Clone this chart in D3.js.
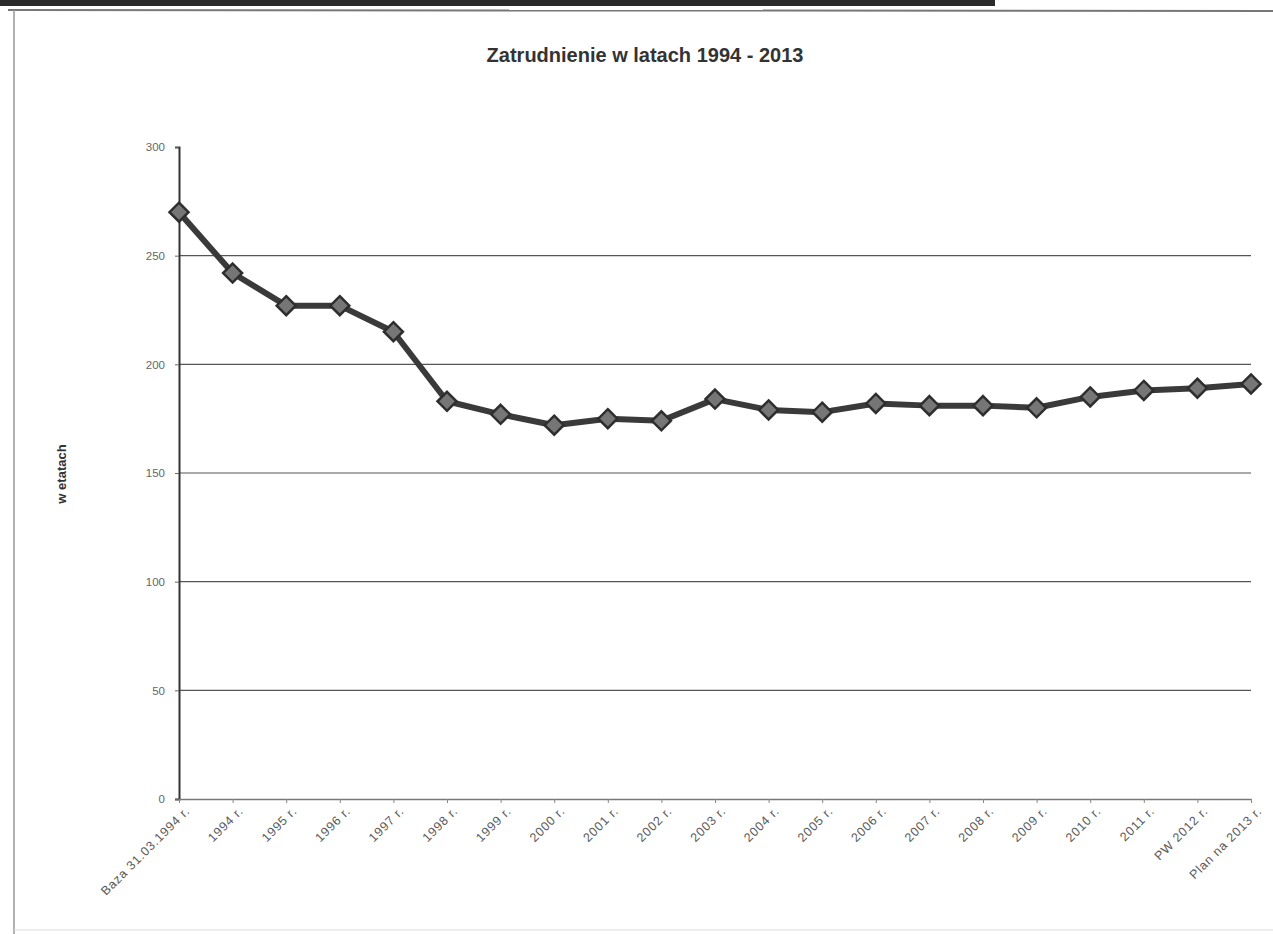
<!DOCTYPE html>
<html>
<head>
<meta charset="utf-8">
<script src="https://cdn.jsdelivr.net/npm/d3@7"></script>
<style>
  html, body { margin: 0; padding: 0; background: #fff; }
  svg { display: block; }
</style>
</head>
<body>
<svg id="chart" width="1273" height="934"></svg>
<script>
// Employment (full-time positions) 1994 - 2013
const categories = [
  "Baza 31.03.1994 r.", "1994 r.", "1995 r.", "1996 r.", "1997 r.", "1998 r.",
  "1999 r.", "2000 r.", "2001 r.", "2002 r.", "2003 r.", "2004 r.", "2005 r.",
  "2006 r.", "2007 r.", "2008 r.", "2009 r.", "2010 r.", "2011 r.",
  "PW 2012 r.", "Plan na 2013 r."
];
const etaty = [270, 242, 227, 227, 215, 183, 177, 172, 175, 174, 184, 179, 178, 182, 181, 181, 180, 185, 188, 189, 191];
const yTicks = [0, 50, 100, 150, 200, 250, 300];
const title = "Zatrudnienie w latach 1994 - 2013";
const yTitle = "w etatach";

const svg = d3.select("#chart");
const font = "Arial, 'Liberation Sans', sans-serif";

// page frame: dark strip at the top and the thin frame lines
svg.append("rect").attr("x", 0).attr("y", 0).attr("width", 995).attr("height", 6).attr("fill", "#2a2a2a");
svg.append("line").attr("x1", 8).attr("x2", 1273).attr("y1", 10).attr("y2", 11)
  .attr("stroke", "#777").attr("stroke-width", 2);
svg.append("line").attr("x1", 14).attr("x2", 14).attr("y1", 10).attr("y2", 934)
  .attr("stroke", "#999").attr("stroke-width", 1.5);
svg.append("line").attr("x1", 14).attr("x2", 1273).attr("y1", 930).attr("y2", 930)
  .attr("stroke", "#ddd").attr("stroke-width", 1);

const plotL = 179, plotR = 1251, plotT = 147, plotB = 799;

const x = d3.scalePoint().domain(categories).range([plotL, plotR]);
const y = d3.scaleLinear().domain([0, 300]).range([plotB, plotT]);

// horizontal gridlines
svg.append("g").selectAll("line")
  .data(yTicks.filter(t => t > 0 && t < 300))
  .join("line")
  .attr("x1", plotL).attr("x2", plotR)
  .attr("y1", d => y(d)).attr("y2", d => y(d))
  .attr("stroke", "#555").attr("stroke-width", 1.2);

// y axis
const yAxis = svg.append("g")
  .attr("transform", `translate(${plotL},0)`)
  .call(d3.axisLeft(y).tickValues(yTicks).tickSize(4).tickPadding(10));
yAxis.select(".domain").attr("stroke", "#333").attr("stroke-width", 2);
yAxis.selectAll(".tick line").attr("stroke", "#666");
yAxis.selectAll(".tick text").attr("font-family", font).attr("font-size", 11.5).attr("fill", "#666");

// x axis
const xAxis = svg.append("g")
  .attr("transform", `translate(0,${plotB})`)
  .call(d3.axisBottom(x).tickSize(4).tickPadding(9).tickSizeOuter(0));
xAxis.select(".domain").attr("stroke", "#777").attr("stroke-width", 1.5);
xAxis.selectAll(".tick line").attr("stroke", "#888");
xAxis.selectAll(".tick text")
  .attr("font-family", font).attr("font-size", 12.5).attr("fill", "#5a5a5a")
  .attr("letter-spacing", 0.8)
  .attr("text-anchor", "end")
  .attr("dx", "-0.1em").attr("dy", "0.3em")
  .attr("transform", "rotate(-45)");

// series line
const line = d3.line().x((d, i) => x(categories[i])).y(d => y(d));
svg.append("path")
  .datum(etaty)
  .attr("d", line)
  .attr("fill", "none")
  .attr("stroke", "#3a3a3a")
  .attr("stroke-width", 6)
  .attr("stroke-linejoin", "round");

// diamond markers
const diamond = d3.symbol().type(d3.symbolDiamond2).size(230);
svg.append("g").selectAll("path")
  .data(etaty)
  .join("path")
  .attr("d", diamond)
  .attr("transform", (d, i) => `translate(${x(categories[i])},${y(d)})`)
  .attr("fill", "#767676")
  .attr("stroke", "#2e2e2e")
  .attr("stroke-width", 2.5);

// titles
svg.append("text")
  .attr("x", 645).attr("y", 62)
  .attr("text-anchor", "middle")
  .attr("font-family", font).attr("font-size", 20).attr("font-weight", "bold")
  .attr("fill", "#333")
  .text(title);

svg.append("text")
  .attr("transform", "translate(66,474) rotate(-90)")
  .attr("text-anchor", "middle")
  .attr("font-family", font).attr("font-size", 13).attr("font-weight", "bold")
  .attr("fill", "#333")
  .text(yTitle);
</script>
</body>
</html>
